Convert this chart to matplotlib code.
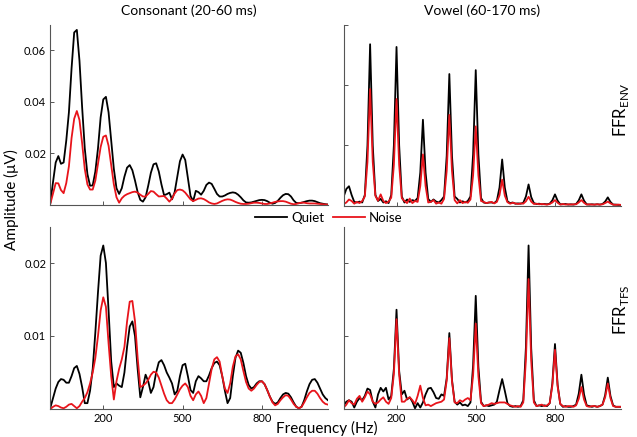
import numpy as np
import matplotlib
matplotlib.use('Agg')
import matplotlib.pyplot as plt

plt.rcParams['font.family'] = ['Lato', 'DejaVu Sans']
plt.rcParams['mathtext.fontset'] = 'custom'
plt.rcParams['mathtext.rm'] = 'Lato'

# ---------------- data (amplitudes in units of 0.001 uV) ----------------
freq_hz = np.arange(0, 1051, 10)

cons_env_quiet = [
    1.0, 9.0, 16.5, 19.0, 16.0, 16.5, 25.0, 36.0, 53.0, 67.0,
    68.0, 56.0, 38.0, 22.0, 12.0, 7.5, 7.6, 13.0, 22.0, 34.0,
    41.0, 42.0, 36.0, 25.0, 14.0, 6.5, 4.3, 6.5, 11.0, 14.5,
    15.5, 13.5, 9.5, 5.0, 2.0, 1.3, 3.0, 7.5, 12.5, 15.8,
    16.2, 13.0, 8.0, 3.8, 4.2, 4.8, 2.2, 5.0, 11.0, 17.0,
    19.6, 17.5, 10.5, 3.5, 1.5, 5.5, 5.0, 4.0, 5.5, 7.8,
    8.7, 8.2, 6.3, 4.3, 3.3, 3.3, 3.7, 4.3, 4.7, 4.9,
    4.7, 4.0, 3.0, 1.8, 1.0, 0.9, 1.0, 1.3, 1.6, 1.9,
    2.0, 1.9, 1.5, 0.9, 0.5, 0.8, 1.6, 2.8, 3.8, 4.3,
    4.2, 3.3, 1.8, 0.8, 0.7, 0.9, 1.2, 1.5, 1.7, 1.7,
    1.5, 1.1, 0.7, 0.5, 0.3, 0.2]
cons_env_noise = [
    0.6, 4.5, 8.5, 8.4, 5.8, 4.6, 8.5, 15.0, 26.0, 33.5,
    36.5, 33.0, 24.0, 14.0, 8.0, 6.0, 6.0, 9.5, 16.0, 22.5,
    26.5, 27.0, 23.0, 15.5, 8.0, 3.0, 0.9, 2.6, 3.6, 4.2,
    4.6, 5.0, 5.2, 4.8, 4.0, 3.3, 3.3, 4.3, 5.4, 5.2,
    4.2, 3.3, 3.4, 3.5, 2.5, 1.3, 2.5, 4.5, 5.8, 6.0,
    5.7, 4.8, 3.5, 2.2, 1.5, 2.0, 2.5, 2.6, 2.3, 1.7,
    1.0, 0.6, 0.4, 0.6, 1.1, 1.6, 2.0, 2.2, 2.1, 1.7,
    1.2, 0.8, 0.5, 0.4, 0.4, 0.5, 0.7, 0.9, 0.9, 0.8,
    0.6, 0.4, 0.4, 0.6, 0.9, 1.2, 1.4, 1.5, 1.5, 1.3,
    0.9, 0.5, 0.3, 0.4, 0.7, 0.9, 0.9, 0.7, 0.6, 0.6,
    0.6, 0.5, 0.4, 0.3, 0.2, 0.1]

vowel_env_quiet = [
    3.0, 5.5, 6.4, 3.5, 1.2, 1.0, 1.3, 1.0, 3.5, 20.0,
    53.6, 20.0, 3.5, 1.5, 2.2, 1.0, 1.4, 0.8, 3.5, 20.0,
    52.7, 20.0, 3.0, 1.0, 2.0, 1.2, 1.8, 1.5, 2.5, 11.0,
    28.5, 11.0, 2.2, 1.2, 2.0, 1.3, 1.0, 1.8, 3.0, 16.5,
    43.7, 16.5, 3.0, 2.2, 1.0, 1.4, 1.0, 1.5, 3.0, 17.0,
    45.0, 17.0, 2.5, 1.0, 0.8, 1.0, 1.0, 0.8, 1.6, 6.0,
    15.3, 6.0, 1.4, 0.8, 1.0, 0.6, 0.7, 0.6, 0.9, 3.0,
    7.0, 2.8, 0.8, 0.5, 0.6, 0.4, 0.5, 0.4, 0.6, 1.7,
    3.7, 1.6, 0.4, 0.4, 0.5, 0.3, 0.4, 0.3, 0.5, 1.7,
    3.7, 1.6, 0.4, 0.3, 0.4, 0.3, 0.4, 0.3, 0.5, 1.3,
    2.7, 1.2, 0.3, 0.3, 0.2, 0.2]
vowel_env_noise = [
    0.5, 1.0, 2.0, 1.5, 0.6, 1.2, 0.8, 1.5, 3.0, 14.5,
    38.7, 14.5, 3.2, 1.6, 3.7, 1.5, 0.8, 1.3, 2.6, 13.5,
    35.4, 13.5, 2.4, 1.5, 0.8, 2.3, 0.8, 1.5, 1.2, 6.5,
    17.0, 6.5, 1.0, 1.2, 1.8, 0.6, 1.0, 0.6, 2.2, 11.5,
    30.1, 11.5, 1.8, 0.7, 1.8, 0.8, 1.2, 0.9, 2.0, 10.0,
    26.3, 10.0, 1.5, 1.2, 0.8, 1.0, 1.2, 0.7, 1.2, 3.4,
    8.6, 3.3, 1.1, 0.6, 0.9, 0.7, 0.5, 0.7, 0.6, 1.4,
    2.9, 1.3, 0.5, 0.6, 0.4, 0.5, 0.4, 0.3, 0.5, 1.0,
    1.8, 0.9, 0.3, 0.5, 0.3, 0.4, 0.3, 0.4, 0.4, 1.0,
    1.8, 0.9, 0.3, 0.4, 0.3, 0.3, 0.4, 0.3, 0.4, 0.8,
    1.3, 0.7, 0.3, 0.2, 0.3, 0.2]

cons_tfs_quiet = [
    0.2, 1.5, 2.8, 3.7, 4.1, 4.0, 3.6, 3.6, 4.5, 5.6,
    5.9, 4.8, 3.0, 0.8, 0.8, 2.5, 5.5, 10.5, 16.0, 21.0,
    22.4, 20.0, 13.5, 6.5, 3.0, 3.5, 3.2, 3.0, 5.0, 8.5,
    11.3, 12.0, 10.0, 5.5, 1.6, 3.0, 4.7, 3.8, 2.2, 3.0,
    5.0, 6.4, 6.7, 6.0, 5.0, 4.3, 3.5, 2.0, 2.5, 4.5,
    6.0, 6.2, 4.5, 2.6, 2.2, 3.8, 4.5, 4.2, 3.8, 3.8,
    4.6, 5.6, 6.3, 6.5, 6.0, 4.5, 2.5, 0.8, 1.5, 4.5,
    7.0, 8.0, 7.7, 6.3, 4.5, 3.3, 2.8, 3.0, 3.5, 3.8,
    3.8, 3.4, 2.6, 1.7, 1.0, 0.7, 0.9, 1.5, 2.0, 2.2,
    2.1, 1.6, 0.9, 0.3, 0.1, 0.3, 1.2, 2.4, 3.4, 4.0,
    4.1, 3.6, 2.8, 2.0, 1.5, 1.2]
cons_tfs_noise = [
    0.0, 0.3, 0.5, 0.4, 0.2, 0.1, 0.3, 0.6, 0.7, 0.4,
    0.1, 0.4, 1.0, 1.5, 2.3, 3.5, 5.0, 7.0, 10.0, 13.5,
    15.3, 14.0, 9.0, 4.5, 1.3, 3.8, 5.5, 6.8, 8.5, 12.0,
    14.7, 14.8, 12.0, 7.0, 3.0, 3.2, 3.5, 4.0, 4.7, 5.1,
    5.0, 4.3, 3.2, 2.1, 1.2, 0.8, 0.8, 1.3, 2.0, 2.7,
    3.2, 3.5, 3.0, 1.8, 1.2, 2.0, 2.4, 1.8, 0.8, 1.5,
    3.5, 5.5, 6.8, 7.1, 6.5, 4.5, 2.8, 2.2, 3.5, 5.8,
    7.2, 7.5, 6.8, 5.2, 3.7, 2.8, 2.5, 2.8, 3.3, 3.7,
    3.8, 3.4, 2.6, 1.7, 0.9, 0.5, 0.7, 1.2, 1.6, 1.9,
    1.8, 1.3, 0.7, 0.3, 0.1, 0.3, 0.9, 1.6, 2.2, 2.5,
    2.5, 2.1, 1.5, 1.0, 0.7, 0.6]

vowel_tfs_quiet = [
    0.5, 1.0, 1.2, 1.0, 0.2, 1.0, 1.5, 1.2, 1.8, 2.8,
    2.6, 1.0, 0.2, 2.0, 2.9, 2.4, 2.9, 1.3, 1.8, 5.5,
    13.6, 5.2, 2.0, 2.5, 1.3, 1.6, 1.0, 0.1, 0.8, 0.2,
    0.9, 2.0, 2.8, 2.9, 2.3, 1.5, 1.4, 2.0, 1.8, 4.2,
    10.4, 4.0, 1.0, 0.6, 0.9, 0.5, 0.6, 0.4, 0.9, 6.0,
    15.5, 5.8, 1.0, 0.4, 0.5, 0.4, 0.5, 0.6, 1.0, 2.6,
    4.1, 2.5, 0.8, 0.4, 0.3, 0.4, 0.3, 0.4, 1.2, 8.5,
    22.4, 8.3, 1.2, 0.4, 0.5, 0.4, 0.5, 0.4, 0.8, 3.5,
    8.9, 3.3, 0.7, 0.3, 0.4, 0.3, 0.3, 0.4, 0.6, 2.1,
    4.7, 2.0, 0.5, 0.4, 0.3, 0.4, 0.3, 0.4, 0.6, 1.9,
    4.3, 1.8, 0.5, 0.3, 0.3, 0.3]
vowel_tfs_noise = [
    0.2, 0.6, 1.2, 0.8, 0.6, 1.4, 1.8, 1.0, 1.6, 2.4,
    2.0, 1.0, 0.7, 0.9, 1.3, 1.6, 1.0, 0.7, 1.5, 4.8,
    12.3, 4.7, 1.0, 1.0, 1.4, 1.6, 1.2, 0.7, 1.8, 3.2,
    1.5, 0.5, 0.6, 0.4, 0.6, 0.8, 0.9, 1.0, 1.3, 3.9,
    9.7, 3.8, 0.9, 0.8, 1.2, 1.0, 1.3, 1.5, 1.2, 4.6,
    11.7, 4.5, 0.8, 0.4, 0.5, 0.6, 0.8, 0.7, 0.8, 0.9,
    0.9, 0.9, 0.7, 0.5, 0.4, 0.3, 0.4, 0.3, 0.9, 6.8,
    17.8, 6.6, 0.9, 0.4, 0.5, 0.6, 0.4, 0.5, 0.8, 3.2,
    8.1, 3.1, 0.7, 0.4, 0.3, 0.4, 0.4, 0.3, 0.5, 1.4,
    3.0, 1.3, 0.4, 0.3, 0.4, 0.4, 0.3, 0.4, 0.6, 1.6,
    3.5, 1.5, 0.4, 0.3, 0.3, 0.3]

x_ticks = [200, 500, 800]
env_yticks = [0.02, 0.04, 0.06]
tfs_yticks = [0.01, 0.02]
col_titles = ['Consonant (20-60 ms)', 'Vowel (60-170 ms)']
row_labels = ['FFR$_\\mathregular{ENV}$', 'FFR$_\\mathregular{TFS}$']
series_names = ['Quiet', 'Noise']
series_colors = ['black', '#e8141b']

# ---------------- layout ----------------
W, H = 637, 437
fig = plt.figure(figsize=(W / 100, H / 100), dpi=100)


def ax_at(x0, y0, x1, y1):
    return fig.add_axes([x0 / W, 1 - y1 / H, (x1 - x0) / W, (y1 - y0) / H])


ax_tl = ax_at(50.4, 24.75, 328, 205)
ax_tr = ax_at(343.7, 25, 621, 205.5)
ax_bl = ax_at(50.4, 226.5, 328, 409)
ax_br = ax_at(343.7, 226.5, 621, 409)

panels = [
    (ax_tl, cons_env_quiet, cons_env_noise, (0, 0.07), env_yticks, True, False),
    (ax_tr, vowel_env_quiet, vowel_env_noise, (0, 0.06), env_yticks, False, False),
    (ax_bl, cons_tfs_quiet, cons_tfs_noise, (0, 0.025), tfs_yticks, True, True),
    (ax_br, vowel_tfs_quiet, vowel_tfs_noise, (0, 0.025), tfs_yticks, False, True),
]

spine_col = '#555555'
handles = []
for ax, q, n, ylim, yt, ylab, xlab in panels:
    hq, = ax.plot(freq_hz, np.array(q) * 1e-3, color=series_colors[0], lw=1.3,
                  label=series_names[0])
    hn, = ax.plot(freq_hz, np.array(n) * 1e-3, color=series_colors[1], lw=1.3,
                  label=series_names[1])
    if not handles:
        handles = [hq, hn]
    ax.set_xlim(0, 1050)
    ax.set_ylim(*ylim)
    ax.set_xticks(x_ticks)
    ax.set_yticks(yt)
    ax.spines['top'].set_visible(False)
    ax.spines['right'].set_visible(False)
    for s in ('left', 'bottom'):
        ax.spines[s].set_color(spine_col)
        ax.spines[s].set_linewidth(0.8)
    ax.tick_params(direction='in', length=3, width=0.7, color=spine_col,
                   labelsize=8, pad=3)
    if ylab:
        ax.set_yticklabels(['%g' % v for v in yt])
    else:
        ax.set_yticklabels([])
    if xlab:
        ax.set_xticklabels([str(v) for v in x_ticks])
    else:
        ax.set_xticklabels([])
    ax.set_facecolor('none')

fig.text((50.4 + 328) / 2 / W, 1 - 11 / H, col_titles[0], ha='center', va='center', fontsize=10)
fig.text((343.7 + 621) / 2 / W, 1 - 11 / H, col_titles[1], ha='center', va='center', fontsize=10)
fig.text(621 / W, 1 - 110 / H, row_labels[0], rotation=90, ha='center', va='center', fontsize=12)
fig.text(621 / W, 1 - 310 / H, row_labels[1], rotation=90, ha='center', va='center', fontsize=12)
fig.text(11 / W, 1 - 200 / H, 'Amplitude (\u03bcV)', rotation=90, ha='center', va='center', fontsize=11)
fig.text(327 / W, 1 - 421 / H, 'Frequency (Hz)', ha='center', va='top', fontsize=11)

fig.legend(handles=handles, labels=series_names, loc='center',
           bbox_to_anchor=(329 / W, 1 - 218 / H), ncol=2, frameon=False,
           fontsize=9.5, handlelength=2.4, handletextpad=0.3, columnspacing=0.7,
           borderpad=0, borderaxespad=0)

fig.savefig('out.png', dpi=100)
